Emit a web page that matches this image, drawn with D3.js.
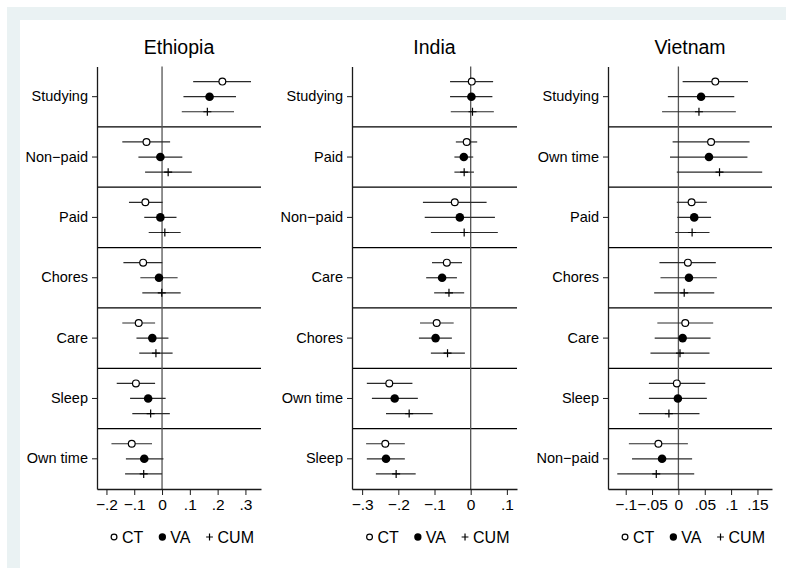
<!DOCTYPE html>
<meta charset="utf-8">
<style>
  body { margin: 0; background: #fff; }
  svg { display: block; font-family: "Liberation Sans", Arial, Helvetica, sans-serif; }
</style>
<svg width="786" height="568"></svg>
<script src="https://d3js.org/d3.v7.min.js"></script>
<script>

    // each row: [estimate, lower bound, upper bound]
    var ethiopiaCats = ["Studying", "Non-paid", "Paid", "Chores", "Care", "Sleep", "Own time"];
    var ethiopiaCT = [[0.217, 0.112, 0.320], [-0.056, -0.143, 0.029], [-0.060, -0.119, 0.002], [-0.068, -0.139, 0.001],
                      [-0.084, -0.143, -0.025], [-0.094, -0.163, -0.025], [-0.109, -0.182, -0.036]];
    var ethiopiaVA = [[0.171, 0.077, 0.266], [-0.006, -0.085, 0.073], [-0.006, -0.064, 0.052], [-0.011, -0.078, 0.056],
                      [-0.035, -0.092, 0.023], [-0.050, -0.115, 0.013], [-0.064, -0.130, 0.005]];
    var ethiopiaCUM = [[0.163, 0.071, 0.259], [0.022, -0.061, 0.107], [0.010, -0.048, 0.067], [-0.001, -0.071, 0.067],
                       [-0.022, -0.082, 0.038], [-0.041, -0.107, 0.028], [-0.066, -0.133, 0.000]];
    var ethiopiaTicks = [-0.2, -0.1, 0, 0.1, 0.2, 0.3];

    var indiaCats = ["Studying", "Paid", "Non-paid", "Care", "Chores", "Own time", "Sleep"];
    var indiaCT = [[0.003, -0.057, 0.062], [-0.011, -0.041, 0.018], [-0.044, -0.132, 0.044], [-0.066, -0.107, -0.024],
                   [-0.094, -0.140, -0.047], [-0.225, -0.287, -0.161], [-0.236, -0.289, -0.182]];
    var indiaVA = [[0.002, -0.057, 0.060], [-0.019, -0.045, 0.007], [-0.030, -0.127, 0.067], [-0.079, -0.123, -0.038],
                   [-0.097, -0.143, -0.052], [-0.210, -0.273, -0.146], [-0.234, -0.287, -0.182]];
    var indiaCUM = [[0.005, -0.055, 0.064], [-0.018, -0.045, 0.009], [-0.018, -0.110, 0.075], [-0.060, -0.101, -0.018],
                    [-0.064, -0.110, -0.016], [-0.170, -0.234, -0.105], [-0.206, -0.262, -0.152]];
    var indiaTicks = [-0.3, -0.2, -0.1, 0, 0.1];

    var vietnamCats = ["Studying", "Own time", "Paid", "Chores", "Care", "Sleep", "Non-paid"];
    var vietnamCT = [[0.070, 0.008, 0.132], [0.062, -0.011, 0.135], [0.025, -0.003, 0.054], [0.018, -0.036, 0.071],
                     [0.013, -0.040, 0.066], [-0.003, -0.056, 0.051], [-0.038, -0.094, 0.018]];
    var vietnamVA = [[0.043, -0.020, 0.106], [0.058, -0.016, 0.131], [0.030, -0.002, 0.062], [0.020, -0.034, 0.073],
                     [0.008, -0.045, 0.061], [-0.001, -0.056, 0.054], [-0.031, -0.088, 0.026]];
    var vietnamCUM = [[0.039, -0.031, 0.109], [0.078, -0.003, 0.159], [0.026, -0.006, 0.059], [0.011, -0.046, 0.068],
                      [0.003, -0.053, 0.059], [-0.018, -0.075, 0.040], [-0.042, -0.116, 0.030]];
    var vietnamTicks = [-0.1, -0.05, 0, 0.05, 0.1, 0.15];

    var seriesNames = ["CT", "VA", "CUM"];

    var panels = [
        {title: "Ethiopia", cats: ethiopiaCats, series: [ethiopiaCT, ethiopiaVA, ethiopiaCUM], ticks: ethiopiaTicks,
         domain: [-0.234, 0.356], left: 97, right: 261},
        {title: "India", cats: indiaCats, series: [indiaCT, indiaVA, indiaCUM], ticks: indiaTicks,
         domain: [-0.328, 0.128], left: 352, right: 517},
        {title: "Vietnam", cats: vietnamCats, series: [vietnamCT, vietnamVA, vietnamCUM], ticks: vietnamTicks,
         domain: [-0.1336, 0.1776], left: 608, right: 772}
    ];

    var svg = d3.select("svg");
    var plotTop = 66.5, plotBottom = 489;
    var ink = "#1a1a1a";

    // Stata-ish frame: light bluish gray outer, white plot region
    svg.append("rect").attr("x", 7).attr("y", 7).attr("width", 786).attr("height", 568).attr("fill", "#eaf2f3");
    svg.append("rect").attr("x", 20).attr("y", 20).attr("width", 786).attr("height", 568).attr("fill", "#fff");

    function fmt(v) {
        if (v === 0) return "0";
        var s = String(+Math.abs(v).toFixed(3)).replace(/^0/, "");
        return (v < 0 ? "\u2212" : "") + s;
    }

    function drawMarker(sel, si, cx, cy, s) {
        if (si === 0) {
            sel.append("circle").attr("cx", cx).attr("cy", cy).attr("r", 3.4 * s)
                .attr("fill", "#fff").attr("stroke", "#000").attr("stroke-width", 1.2);
        } else if (si === 1) {
            sel.append("circle").attr("cx", cx).attr("cy", cy).attr("r", 4.3 * s).attr("fill", "#000");
        } else {
            var h = 4 * s;
            sel.append("path").attr("d", "M" + (cx - h) + "," + cy + "H" + (cx + h) + "M" + cx + "," + (cy - h) + "V" + (cy + h))
                .attr("stroke", "#000").attr("stroke-width", 1.2).attr("fill", "none");
        }
    }

    panels.forEach(function(p) {
        var g = svg.append("g");
        var x = d3.scaleLinear().domain(p.domain).range([p.left, p.right]);
        var y = d3.scaleBand().domain(p.cats).range([plotTop, plotBottom]);
        var bw = y.bandwidth();

        // separators between categories
        g.selectAll(".sep").data(p.cats.slice(1)).enter().append("line")
            .attr("x1", p.left).attr("x2", p.right)
            .attr("y1", function(d) {return y(d)}).attr("y2", function(d) {return y(d)})
            .attr("stroke", "#000").attr("stroke-width", 1.3);

        // zero reference line
        g.append("line")
            .attr("x1", x(0)).attr("x2", x(0)).attr("y1", plotTop).attr("y2", plotBottom)
            .attr("stroke", "#555").attr("stroke-width", 1.3);

        // CIs and markers
        p.series.forEach(function(rows, si) {
            var off = bw * (si + 1) / 4;
            var sg = g.append("g");
            sg.selectAll("line.ci").data(rows).enter().append("line")
                .attr("x1", function(d) {return x(d[1])}).attr("x2", function(d) {return x(d[2])})
                .attr("y1", function(d, i) {return y(p.cats[i]) + off})
                .attr("y2", function(d, i) {return y(p.cats[i]) + off})
                .attr("stroke", "#2a2a2a").attr("stroke-width", 1.2);
            rows.forEach(function(d, i) {
                drawMarker(sg, si, x(d[0]), y(p.cats[i]) + off, 1);
            });
        });

        // axes
        var ax = g.append("g").attr("transform", "translate(0," + plotBottom + ")")
            .call(d3.axisBottom(x).tickValues(p.ticks).tickFormat(fmt).tickSize(6).tickSizeOuter(0).tickPadding(4));
        var ay = g.append("g").attr("transform", "translate(" + p.left + ",0)")
            .call(d3.axisLeft(y).tickSize(5).tickSizeOuter(0).tickPadding(4));
        ax.attr("font-size", 15.5);
        ay.attr("font-size", 14.5);
        [ax, ay].forEach(function(a) {
            a.attr("color", ink).attr("font-family", null);
            a.selectAll("text").attr("fill", "#000");
            a.select(".domain").attr("stroke-width", 1.3);
        });
        ay.selectAll("text").text(function(d) {return d.replace("-", "\u2212")});

        // title
        g.append("text").attr("x", (p.left + p.right) / 2).attr("y", 54)
            .attr("text-anchor", "middle").attr("font-size", 19.5).text(p.title);

        // legend
        var lg = g.append("g");
        var items = [];
        seriesNames.forEach(function(name, si) {
            var it = lg.append("g");
            drawMarker(it, si, 0, 0, 0.85);
            var t = it.append("text").attr("x", 8).attr("y", 5.8).attr("font-size", 16).text(name);
            items.push({g: it, w: 8 + t.node().getComputedTextLength()});
        });
        var gap = 19, total = 0;
        items.forEach(function(it, i) {
            it.g.attr("transform", "translate(" + total + ",0)");
            total += it.w + (i < items.length - 1 ? gap : 0);
        });
        lg.attr("transform", "translate(" + ((p.left + p.right) / 2 + 2 - total / 2 + 3) + ",537)");
    });
</script>
